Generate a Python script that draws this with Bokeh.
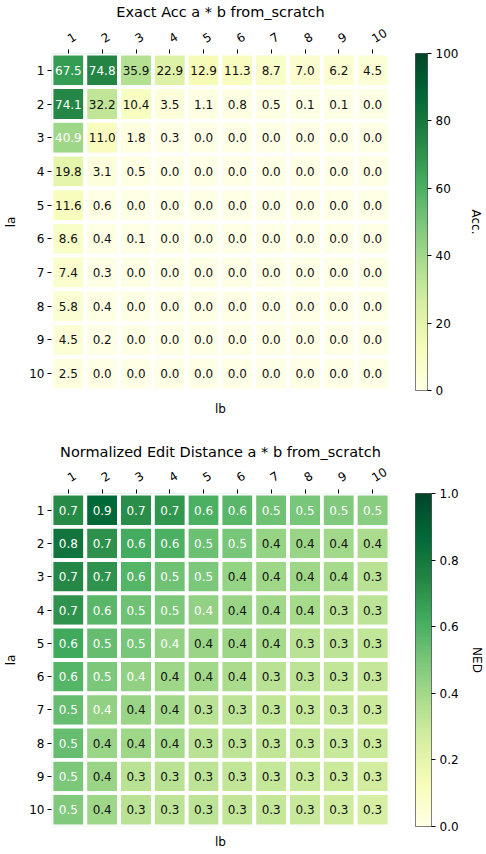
import numpy as np
import pandas as pd
from bokeh.plotting import figure
from bokeh.models import (FactorRange, Range1d, LinearColorMapper, FixedTicker,
                          PrintfTickFormatter, ColumnDataSource, Title)
from bokeh.transform import linear_cmap
from bokeh.layouts import column, row
from bokeh.embed import file_html
from bokeh.resources import INLINE
from bokeh.core.properties import value

# operand lengths
la_labels = [str(i) for i in range(1, 11)]
lb_labels = [str(i) for i in range(1, 11)]

# exact-match accuracy (%), rows = la, columns = lb
acc = [
    [67.5, 74.8, 35.9, 22.9, 12.9, 11.3, 8.7, 7.0, 6.2, 4.5],
    [74.1, 32.2, 10.4, 3.5, 1.1, 0.8, 0.5, 0.1, 0.1, 0.0],
    [40.9, 11.0, 1.8, 0.3, 0.0, 0.0, 0.0, 0.0, 0.0, 0.0],
    [19.8, 3.1, 0.5, 0.0, 0.0, 0.0, 0.0, 0.0, 0.0, 0.0],
    [11.6, 0.6, 0.0, 0.0, 0.0, 0.0, 0.0, 0.0, 0.0, 0.0],
    [8.6, 0.4, 0.1, 0.0, 0.0, 0.0, 0.0, 0.0, 0.0, 0.0],
    [7.4, 0.3, 0.0, 0.0, 0.0, 0.0, 0.0, 0.0, 0.0, 0.0],
    [5.8, 0.4, 0.0, 0.0, 0.0, 0.0, 0.0, 0.0, 0.0, 0.0],
    [4.5, 0.2, 0.0, 0.0, 0.0, 0.0, 0.0, 0.0, 0.0, 0.0],
    [2.5, 0.0, 0.0, 0.0, 0.0, 0.0, 0.0, 0.0, 0.0, 0.0],
]

# normalized edit distance, rows = la, columns = lb
ned = [
    [0.73, 0.87, 0.72, 0.69, 0.60, 0.57, 0.52, 0.50, 0.48, 0.46],
    [0.82, 0.71, 0.62, 0.60, 0.53, 0.50, 0.43, 0.42, 0.40, 0.38],
    [0.74, 0.70, 0.58, 0.52, 0.49, 0.43, 0.41, 0.41, 0.39, 0.34],
    [0.70, 0.57, 0.52, 0.49, 0.44, 0.42, 0.40, 0.39, 0.34, 0.33],
    [0.63, 0.54, 0.50, 0.44, 0.42, 0.41, 0.39, 0.34, 0.33, 0.32],
    [0.58, 0.49, 0.44, 0.41, 0.40, 0.38, 0.34, 0.33, 0.32, 0.31],
    [0.54, 0.44, 0.42, 0.40, 0.34, 0.33, 0.32, 0.31, 0.30, 0.29],
    [0.54, 0.42, 0.41, 0.39, 0.34, 0.33, 0.32, 0.31, 0.30, 0.29],
    [0.49, 0.42, 0.34, 0.34, 0.33, 0.32, 0.31, 0.30, 0.29, 0.27],
    [0.48, 0.41, 0.34, 0.33, 0.33, 0.32, 0.31, 0.30, 0.28, 0.26],
]

FONT = "DejaVu Sans"

# YlGn, smoothly interpolated from the ColorBrewer anchors
_anchors = ["#ffffe5", "#f7fcb9", "#d9f0a3", "#addd8e", "#78c679",
            "#41ab5d", "#238443", "#006837", "#004529"]
_rgb = np.array([[int(c[i:i + 2], 16) for i in (1, 3, 5)] for c in _anchors], float)
_pos = np.linspace(0, 1, len(_anchors))
_t = np.linspace(0, 1, 256)
YLGN = ["#%02x%02x%02x" % tuple(int(round(np.interp(x, _pos, _rgb[:, k]))) for k in range(3))
        for x in _t]


def style_text(obj, size="12px"):
    obj.text_font = FONT
    obj.text_font_size = size
    obj.text_font_style = "normal"
    obj.text_color = "black"
    obj.text_line_height = 1.0


def style_axis_text(ax):
    ax.major_label_text_font = FONT
    ax.major_label_text_font_size = "12px"
    ax.major_label_text_color = "black"
    ax.axis_label_text_font = FONT
    ax.axis_label_text_font_size = "12px"
    ax.axis_label_text_font_style = "normal"
    ax.axis_label_text_color = "black"


def heatmap(values, title, vmax, top, bottom, label_standoff, title_standoff, lb_standoff):
    df = pd.DataFrame(values, index=la_labels, columns=lb_labels)
    long = df.stack().reset_index()
    long.columns = ["la", "lb", "v"]
    long["label"] = long["v"].map(lambda v: f"{v:.1f}")
    src = ColumnDataSource(long)

    p = figure(width=400, height=427,
               x_range=FactorRange(factors=lb_labels),
               y_range=FactorRange(factors=la_labels[::-1]),
               x_axis_location="above", output_backend="svg",
               toolbar_location=None, tools="",
               min_border_left=51, min_border_right=11,
               min_border_top=top, min_border_bottom=bottom)
    p.outline_line_color = None
    p.grid.grid_line_color = None
    p.background_fill_color = "white"

    p.rect(x="lb", y="la", width=1, height=1, source=src,
           fill_color=linear_cmap("v", YLGN, 0, vmax),
           line_color="white", line_width=3.8)
    # white text on cells above half of the largest value
    p.text(x="lb", y="la", text="label", source=src,
           text_align="center", text_baseline="middle",
           text_font=value(FONT), text_font_size="12px",
           text_color=linear_cmap("v", ["#111111", "#ffffff"], 0, max(map(max, values))))

    p.title.text = title
    p.title.align = "center"
    style_text(p.title, "14.5px")
    p.title.standoff = title_standoff

    for ax in (p.xaxis[0], p.yaxis[0]):
        ax.axis_line_color = None
        ax.major_tick_line_color = "black"
        ax.major_tick_in = 0
        ax.major_tick_out = 4
        ax.minor_tick_line_color = None
        style_axis_text(ax)
    p.xaxis[0].major_label_orientation = 0.55
    p.xaxis[0].major_label_standoff = label_standoff
    p.yaxis[0].axis_label = "la"
    p.yaxis[0].major_label_standoff = 3
    p.yaxis[0].axis_label_standoff = 8

    # axis title for lb sits under the grid
    lb_title = Title(text="lb", align="center", standoff=lb_standoff)
    style_text(lb_title, "12px")
    p.add_layout(lb_title, "below")
    return p


def colorbar(vmax, ticks, fmt, label, top, bottom):
    p = figure(width=86, height=427, x_range=Range1d(0, 1), y_range=Range1d(0, vmax),
               y_axis_location="right", output_backend="svg",
               toolbar_location=None, tools="",
               min_border_left=15, min_border_right=53,
               min_border_top=top, min_border_bottom=bottom)
    p.xaxis.visible = False
    p.grid.grid_line_color = None
    p.outline_line_color = "#555555"
    p.outline_line_width = 1
    mapper = LinearColorMapper(palette=YLGN, low=0, high=vmax)
    grad = np.linspace(0, vmax, 256).reshape(-1, 1)
    p.image(image=[grad], x=0, y=0, dw=1, dh=vmax, color_mapper=mapper)
    ax = p.yaxis[0]
    ax.ticker = FixedTicker(ticks=ticks)
    ax.formatter = PrintfTickFormatter(format=fmt)
    ax.axis_line_color = None
    ax.major_tick_line_color = "black"
    ax.major_tick_in = 0
    ax.major_tick_out = 4
    ax.minor_tick_line_color = None
    ax.major_label_standoff = 4
    ax.axis_label = label
    ax.axis_label_standoff = 8
    style_axis_text(ax)
    return p


p_acc = heatmap(acc, "Exact Acc a * b from_scratch", 100, 53, 37, 10, 2, 18)
c_acc = colorbar(100, [0, 20, 40, 60, 80, 100], "%d", "Acc.", 53, 37)
p_ned = heatmap(ned, "Normalized Edit Distance a * b from_scratch", 1.0, 64, 25, 11, 0, 12)
c_ned = colorbar(1.0, [0, 0.2, 0.4, 0.6, 0.8, 1.0], "%.1f", "NED", 66, 24)

layout = column(row(p_acc, c_acc), row(p_ned, c_ned))
open("out.html", "w").write(file_html(layout, INLINE))
